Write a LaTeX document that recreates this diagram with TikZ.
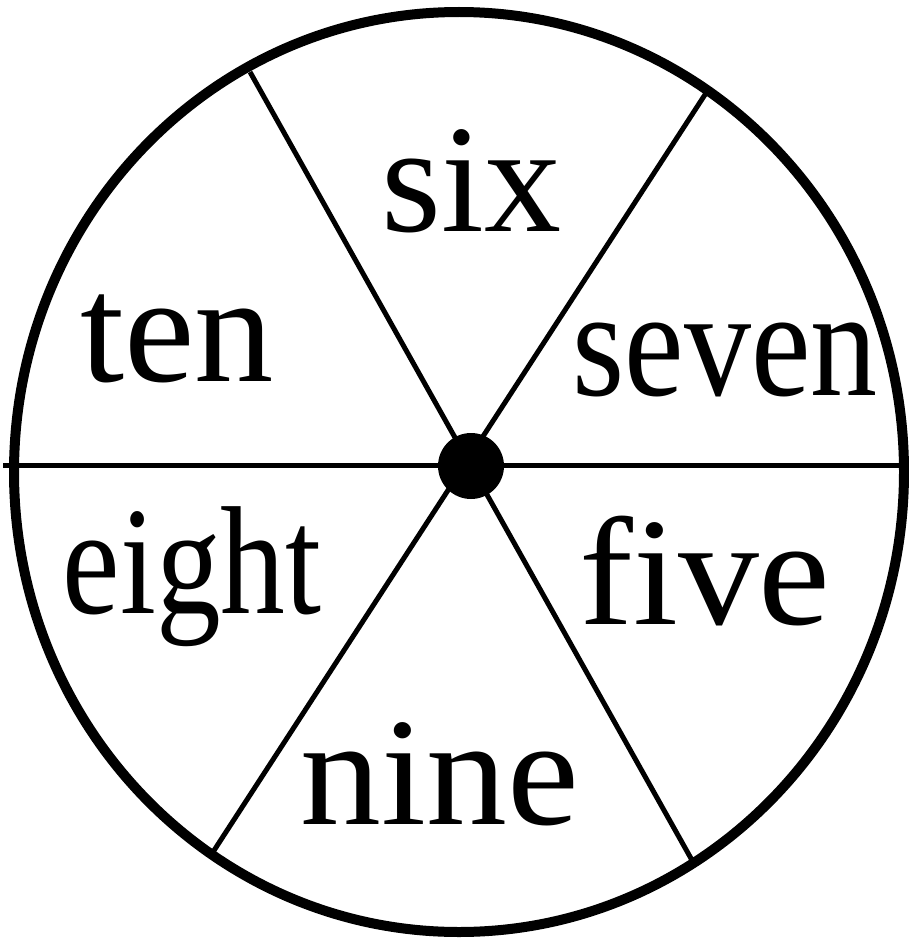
\documentclass[tikz,border=0pt]{standalone}
\usepackage{fontspec}
\setmainfont{Liberation Serif}
\begin{document}
\begin{tikzpicture}[x=1pt,y=-1pt,
  rim/.style={line width=10pt},
  spoke/.style={line width=5pt},
  lab/.style={inner sep=0pt,anchor=base,font=\fontsize{154}{154}\selectfont}]
\useasboundingbox (0,0) rectangle (909,939);
\coordinate (c) at (459,472);
\coordinate (hl) at (3,465);
\coordinate (hr) at (902,465);
\coordinate (a1) at (250,72);
\coordinate (a2) at (693,862);
\coordinate (b1) at (708,90);
\coordinate (b2) at (213,852);
\draw[rim] (c) ellipse [x radius=445, y radius=460];
\draw[spoke] (hl) -- (hr);
\draw[spoke] (a1) -- (a2);
\draw[spoke] (b1) -- (b2);
\fill (471,466) circle [radius=33];
\node[lab] (six) at (471.5,231) {six};
\node[lab,xscale=1.03] (ten) at (177,381) {ten};
\node[lab,xscale=0.87] (seven) at (725,395) {seven};
\node[lab,xscale=0.84] (eight) at (192,613) {eight};
\node[lab,xscale=1.05] (five) at (705,624) {five};
\node[lab,xscale=1.05] (nine) at (440,824) {nine};
\end{tikzpicture}
\end{document}
